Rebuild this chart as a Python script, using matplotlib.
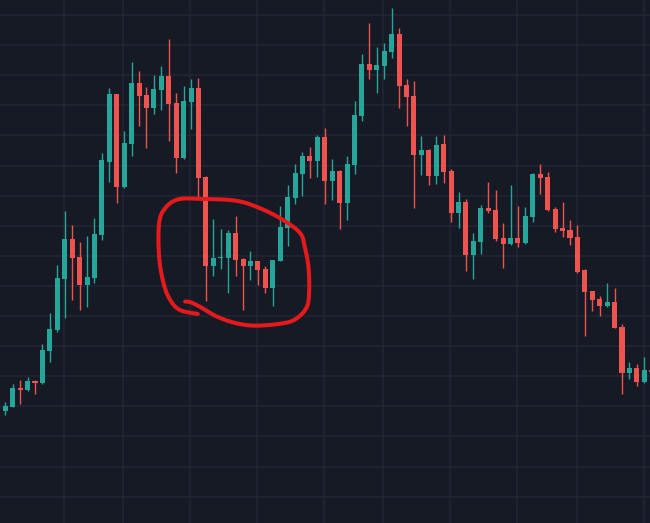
import numpy as np
import matplotlib.pyplot as plt

# ============================================================
# DATA (arbitrary price units)
# ============================================================

opens = [38.6, 39.9, 46.1, 45.4, 48.4, 47.8, 58.4, 65.4, 82.3, 95.6,
         89.6, 80.3, 82.6, 96.9, 121.2, 143.8, 112.9, 127.2, 147.4, 143.4,
         139.1, 145.1, 149.8, 140.8, 122.5, 141.1, 145.8, 116.2, 86.6, 89.4,
         89.3, 97.6, 89.0, 86.6, 88.3, 85.6, 79.3, 88.3, 99.3, 109.2,
         117.2, 123.2, 121.5, 129.5, 114.9, 118.2, 107.6, 120.2, 136.5, 153.7,
         151.7, 153.1, 157.7, 163.7, 146.8, 143.1, 123.5, 125.2, 116.5, 127.2,
         118.2, 104.2, 107.9, 90.3, 94.6, 105.9, 105.2, 95.9, 93.9, 95.9,
         94.3, 102.9, 117.2, 116.2, 105.6, 99.3, 98.6, 96.3, 85.3, 78.3,
         75.7, 73.3, 74.7, 66.4, 51.1, 52.7, 48.1, 52.2]
highs = [41.4, 47.4, 48.7, 49.7, 48.7, 60.7, 71.0, 87.0, 104.9, 100.2,
         94.6, 96.6, 102.6, 124.2, 145.8, 143.9, 131.5, 154.4, 151.4, 146.1,
         150.1, 153.1, 162.0, 144.1, 146.4, 148.8, 149.1, 116.5, 102.2, 98.9,
         98.6, 103.2, 89.3, 91.6, 88.4, 86.6, 88.7, 106.6, 113.5, 120.5,
         124.5, 126.2, 130.1, 132.5, 122.2, 118.5, 123.2, 141.4, 157.1, 167.4,
         159.4, 160.7, 172.3, 165.7, 148.8, 148.1, 129.8, 125.5, 129.8, 130.1,
         118.9, 111.2, 108.9, 97.6, 106.9, 114.5, 111.9, 100.9, 113.5, 106.6,
         106.2, 117.5, 120.5, 117.9, 106.2, 107.9, 101.9, 100.2, 85.6, 78.4,
         76.7, 81.0, 79.3, 67.4, 54.7, 54.1, 56.4, 52.5]
lows = [37.2, 39.7, 40.8, 45.2, 44.1, 47.4, 54.7, 64.7, 69.4, 75.3,
        72.0, 73.0, 81.0, 95.3, 114.5, 107.6, 112.5, 123.2, 133.1, 125.8,
        137.1, 138.5, 128.2, 117.5, 122.2, 132.1, 109.5, 75.0, 83.3, 85.6,
        77.7, 83.3, 72.0, 82.0, 80.3, 77.7, 73.3, 88.2, 93.3, 107.2,
        109.9, 115.9, 116.2, 107.2, 108.6, 98.9, 101.9, 117.2, 134.8, 148.8,
        144.1, 148.8, 155.7, 139.1, 133.1, 105.9, 116.9, 113.5, 113.9, 114.2,
        101.2, 99.3, 85.0, 82.3, 90.6, 104.2, 94.9, 86.0, 93.6, 92.9,
        93.9, 101.2, 110.5, 104.9, 97.9, 96.3, 93.6, 84.3, 63.4, 71.7,
        70.0, 73.0, 65.9, 44.1, 49.1, 46.8, 47.8, 51.0]
closes = [40.1, 46.1, 45.4, 48.4, 47.8, 58.7, 65.7, 82.6, 95.6, 89.3,
          80.3, 83.0, 97.3, 121.8, 143.8, 112.9, 127.5, 147.4, 143.1, 139.1,
          145.4, 149.8, 140.4, 122.5, 141.4, 145.8, 115.9, 86.6, 89.3, 89.7,
          97.6, 88.6, 86.6, 88.3, 85.3, 79.3, 88.6, 99.6, 109.5, 117.5,
          123.2, 121.5, 129.5, 114.9, 118.2, 107.6, 120.5, 136.8, 153.7, 151.7,
          153.4, 158.1, 163.7, 146.4, 142.8, 123.5, 125.2, 116.5, 126.8, 117.9,
          104.2, 107.9, 90.3, 94.9, 105.9, 104.9, 95.6, 93.9, 95.9, 94.3,
          103.2, 117.2, 115.9, 105.2, 98.9, 98.3, 95.9, 84.6, 78.0, 75.3,
          73.3, 74.7, 66.0, 51.1, 52.7, 48.1, 52.1, 51.4]

# candle indices where the time grid lines fall
time_grid = [8, 16, 25, 34, 43, 51, 60, 69, 77, 86]

# hand drawn loop around the consolidation (candle index, price)
loop_x = [25.9, 23.5, 22.2, 21.3, 20.7, 20.7, 21.5, 23.3, 26.6, 31.1,
          34.3, 37.4, 39.7, 40.3, 40.8, 40.9, 40.6, 39.2, 37.4, 33.8,
          31.1, 28.5, 26.2, 24.9, 24.2]
loop_y = [70.7, 72.0, 75.3, 80.9, 89.7, 100.8, 105.8, 108.8, 108.9, 108.3,
          105.8, 101.9, 97.5, 93.0, 86.4, 78.7, 73.1, 69.2, 67.6, 66.8,
          67.6, 69.8, 73.1, 74.6, 74.8]

# ============================================================
# STYLE
# ============================================================
BG = "#161a25"
GRID = "#232733"
UP = "#26a69a"
DOWN = "#ef5350"
LOOP = "#e61a1c"


def smooth_stroke(xs, ys, steps=12):
    # catmull-rom through the traced points, just to soften the pen stroke
    p = np.column_stack([xs, ys])
    p = np.vstack([p[0], p, p[-1]])
    out = []
    t = np.linspace(0, 1, steps, endpoint=False)[:, None]
    for k in range(1, len(p) - 2):
        p0, p1, p2, p3 = p[k - 1], p[k], p[k + 1], p[k + 2]
        seg = 0.5 * ((2 * p1) + (-p0 + p2) * t
                     + (2 * p0 - 5 * p1 + 4 * p2 - p3) * t ** 2
                     + (-p0 + 3 * p1 - 3 * p2 + p3) * t ** 3)
        out.append(seg)
    out.append(p[-2][None, :])
    out = np.vstack(out)
    return out[:, 0], out[:, 1]


o = np.array(opens)
h = np.array(highs)
l = np.array(lows)
c = np.array(closes)
idx = np.arange(len(o))
colors = np.where(c >= o, UP, DOWN)

fig = plt.figure(figsize=(6.5, 5.23), dpi=100, facecolor=BG)
ax = fig.add_axes([0, 0, 1, 1], facecolor=BG)

# --- grid ---
for g in np.arange(10, 180, 10):
    ax.axhline(g, color=GRID, lw=1.1, zorder=0)
for g in time_grid:
    ax.axvline(g - 0.1, color=GRID, lw=1.1, zorder=0)

# --- candles ---
ax.vlines(idx, l, h, colors=colors, lw=1.0, zorder=2)
body_bottom = np.minimum(o, c)
body_height = np.maximum(np.abs(c - o), 0.35)
ax.bar(idx, body_height, bottom=body_bottom, width=0.68, color=colors,
       linewidth=0, zorder=3)

# --- annotation loop ---
lx, ly = smooth_stroke(loop_x, loop_y)
ax.plot(lx, ly, color=LOOP, lw=2.9, solid_joinstyle="round",
        solid_capstyle="round", zorder=4)

ax.set_xlim(-0.713, 86.77)
ax.set_ylim(1.24, 175.0)
ax.axis("off")

fig.savefig("out.png", dpi=100, facecolor=BG)
